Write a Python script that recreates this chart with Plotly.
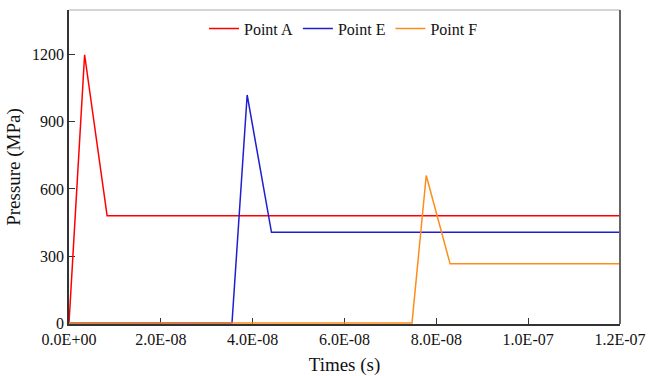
import plotly.graph_objects as go

# Pressure histories at the three monitoring points
time_a = [0, 3.4e-9, 8.3e-9, 1.2e-7]
pressure_a = [0, 1200, 480, 480]

time_e = [0, 35.5e-9, 38.8e-9, 44.1e-9, 1.2e-7]
pressure_e = [0, 0, 1020, 406, 406]

time_f = [0, 74.7e-9, 77.8e-9, 83.0e-9, 1.2e-7]
pressure_f = [0, 0, 660, 265, 265]

series_names = ["Point A", "Point E", "Point F"]
series_colors = ["#ff0000", "#1f1fd0", "#ff8c1a"]

x_tick_vals = [0, 2e-8, 4e-8, 6e-8, 8e-8, 1e-7, 1.2e-7]
x_tick_text = ["0.0E+00", "2.0E-08", "4.0E-08", "6.0E-08", "8.0E-08", "1.0E-07", "1.2E-07"]
y_tick_vals = [0, 300, 600, 900, 1200]

FONT = "Liberation Serif, Times New Roman, serif"

fig = go.Figure()
for name, color, t, p in zip(series_names, series_colors,
                             [time_a, time_e, time_f],
                             [pressure_a, pressure_e, pressure_f]):
    fig.add_trace(go.Scatter(x=t, y=p, mode="lines", name=name,
                             line=dict(color=color, width=1.5)))

fig.update_layout(
    width=648, height=376,
    margin=dict(l=69, r=28, t=10, b=52),
    paper_bgcolor="white", plot_bgcolor="white",
    font=dict(family=FONT, size=16, color="#111"),
    showlegend=True,
    legend=dict(orientation="h", x=0.245, xanchor="left", y=0.995, yanchor="top",
                bgcolor="rgba(0,0,0,0)", font=dict(family=FONT, size=16),
                itemwidth=30, tracegroupgap=0),
    xaxis=dict(range=[0, 1.2e-7], tickvals=x_tick_vals, ticktext=x_tick_text,
               ticks="inside", ticklen=6, tickcolor="#333", tickwidth=1,
               showline=True, linecolor="#333", linewidth=1.5,
               showgrid=False, zeroline=False, automargin=False,
               layer="below traces",
               title=dict(text="Times (s)", standoff=14),
               tickfont=dict(family=FONT, size=16)),
    # small negative floor keeps the zero-pressure segments visible on the axis
    yaxis=dict(range=[-4, 1400], tickvals=y_tick_vals,
               ticks="inside", ticklen=6, tickcolor="#333", tickwidth=1,
               showline=True, linecolor="#333", linewidth=1.5,
               showgrid=False, zeroline=False, automargin=False,
               layer="below traces",
               title=dict(text="Pressure (MPa)", standoff=6),
               tickfont=dict(family=FONT, size=16)),
)

# Frame: light top edge, darker right edge
fig.add_shape(type="line", xref="paper", yref="paper", x0=0, x1=1, y0=1, y1=1,
              line=dict(color="#aaaaaa", width=1))
fig.add_shape(type="line", xref="paper", yref="paper", x0=1, x1=1, y0=0, y1=1,
              line=dict(color="#666666", width=2))

fig.write_html("out.html")
